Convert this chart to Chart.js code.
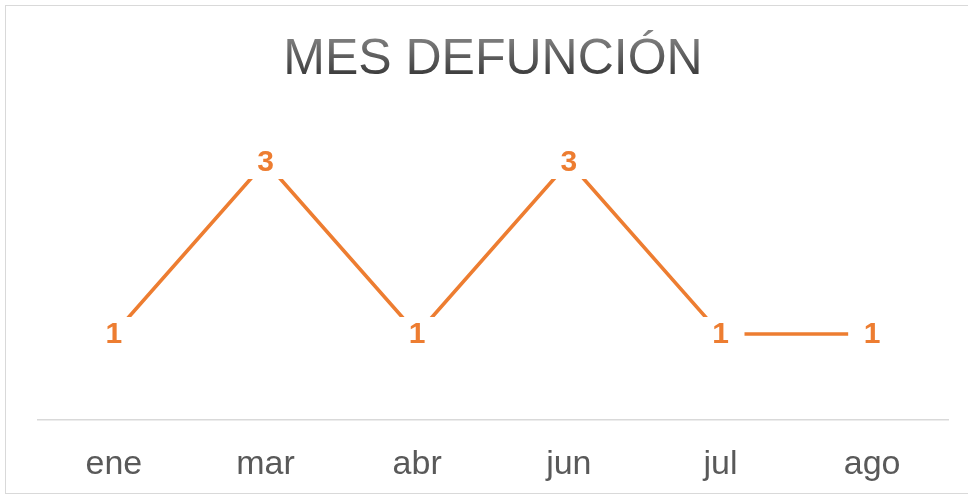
<!DOCTYPE html>
<html>
<head>
<meta charset="utf-8">
<script src="https://cdn.jsdelivr.net/npm/chart.js@4.4.1/dist/chart.umd.min.js"></script>
<style>
  html, body { margin: 0; padding: 0; background: #fff; }
  #wrap { position: relative; width: 968px; height: 499px; overflow: hidden; }
  #frame { position: absolute; left: 5px; top: 5px; width: 980px; height: 489px; border: 1.5px solid #d9d9d9; box-sizing: border-box; }
  canvas { position: absolute; left: 0; top: 0; }
</style>
</head>
<body>
<div id="wrap">
  <div id="frame"></div>
  <canvas id="chart" width="968" height="499"></canvas>
</div>
<script>
// Datos
var meses = ['ene', 'mar', 'abr', 'jun', 'jul', 'ago']
var defunciones = [1, 3, 1, 3, 1, 1]
var titulo = 'MES DEFUNCIÓN'

var naranja = '#ED7D31'
var fuente = '"Liberation Sans", Arial, sans-serif'

// titulo con degradado gris
var tituloPlugin = {
    id: 'tituloDegradado',
    afterDraw: function (chart) {
        var ctx = chart.ctx
        ctx.save()
        var grad = ctx.createLinearGradient(0, 36, 0, 75)
        grad.addColorStop(0, '#828282')
        grad.addColorStop(1, '#3c3c3c')
        ctx.fillStyle = grad
        ctx.font = '50px ' + fuente
        ctx.textAlign = 'center'
        ctx.textBaseline = 'alphabetic'
        ctx.fillText(titulo, 493, 74)
        ctx.restore()
    }
}

// etiquetas de datos con hueco blanco detrás (estilo Excel)
var etiquetasPlugin = {
    id: 'etiquetas',
    afterDatasetsDraw: function (chart) {
        var ctx = chart.ctx
        var meta = chart.getDatasetMeta(0)
        ctx.save()
        ctx.font = 'bold 30px ' + fuente
        ctx.textAlign = 'center'
        ctx.textBaseline = 'middle'
        meta.data.forEach(function (pt, i) {
            ctx.fillStyle = '#ffffff'
            ctx.fillRect(pt.x - 24, pt.y - 17, 48, 34)
            ctx.fillStyle = naranja
            ctx.fillText(String(defunciones[i]), pt.x, pt.y + 1)
        })
        ctx.restore()
    }
}

new Chart(document.getElementById('chart').getContext('2d'), {
    type: 'line',
    data: {
        labels: meses,
        datasets: [{
            label: titulo,
            data: defunciones,
            borderColor: naranja,
            backgroundColor: naranja,
            borderWidth: 3.5,
            pointRadius: 0,
            tension: 0
        }]
    },
    options: {
        responsive: false,
        animation: false,
        layout: { padding: { left: 38, right: 20, top: 119, bottom: 0 } },
        plugins: {
            legend: { display: false },
            tooltip: { enabled: false },
            title: { display: false }
        },
        scales: {
            x: {
                offset: true,
                grid: { display: false },
                border: { display: true, color: '#d9d9d9', width: 1.5 },
                ticks: {
                    color: '#595959',
                    padding: 16,
                    maxRotation: 0,
                    font: { family: fuente, size: 34 }
                },
                afterFit: function (scale) { scale.height = 79 }
            },
            y: {
                display: false,
                min: 0,
                max: 3.5
            }
        }
    },
    plugins: [etiquetasPlugin, tituloPlugin]
})
</script>
</body>
</html>
